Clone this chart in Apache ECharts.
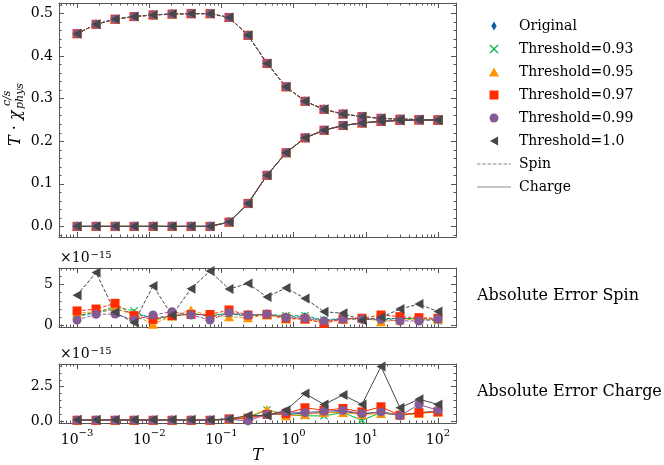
<!DOCTYPE html>
<html>
<head>
<meta charset="utf-8">
<title>Susceptibility and absolute error</title>
<script src="https://cdn.jsdelivr.net/npm/echarts@6/dist/echarts.min.js"></script>
<style>html,body{margin:0;padding:0;background:#fff}</style>
</head>
<body>
<div id="main" style="width:664px;height:465px"></div>
<script>
// temperatures (log spaced, 10^-3 .. 10^2)
var T = [0.001, 0.001833, 0.00336, 0.006158, 0.01129, 0.02069, 0.03793, 0.06952, 0.1274, 0.2336,
         0.4281, 0.7848, 1.438, 2.637, 4.833, 8.859, 16.24, 29.76, 54.56, 100];

// T * chi (same for every method, they overlap in the picture)
var spinChi   = [0.453, 0.475, 0.487, 0.493, 0.497, 0.499, 0.5, 0.5, 0.491, 0.449,
                 0.383, 0.328, 0.294, 0.275, 0.264, 0.258, 0.254, 0.252, 0.251, 0.25];
var chargeChi = [0, 0, 0, 0, 0, 0, 0, 0, 0.01, 0.054,
                 0.12, 0.173, 0.208, 0.226, 0.237, 0.243, 0.247, 0.249, 0.25, 0.25];

// absolute errors, in units of 1e-15
var spinErrOriginal = [1.2, 1.5, 2.0, 1.4, 0.9, 1.1, 1.4, 1.1, 1.4, 1.1, 1.3, 1.0, 1.0, 0.5, 0.8, 0.8, 0.8, 0.8, 0.8, 0.7];
var spinErr093 = [1.03, 1.57, 2.27, 1.74, 0.62, 1.03, 1.45, 1.2, 1.45, 1.2, 1.32, 1.16, 1.16, 0.62, 0.83, 0.74, 0.62, 0.83, 0.74, 0.5];
var spinErr095 = [1.45, 1.65, 2.07, 1.24, 0.1, 1.1, 1.86, 1.1, 1.03, 0.9, 1.24, 0.74, 0.74, 0.33, 0.74, 0.91, 0.41, 0.62, 0.74, 0.74];
var spinErr097 = [1.74, 1.98, 2.69, 1.16, 0.7, 1.16, 1.3, 1.3, 1.86, 1.24, 1.32, 0.83, 0.74, 0.2, 0.74, 0.83, 1.24, 1.03, 0.91, 0.83];
var spinErr099 = [0.62, 1.32, 1.36, 0.62, 1.24, 1.65, 1.24, 0.62, 1.53, 1.24, 1.36, 0.91, 0.83, 0.5, 0.74, 0.7, 0.7, 0.5, 0.5, 0.74];
var spinErr10  = [3.7, 6.5, 1.57, 0.3, 4.83, 1.2, 4.5, 6.7, 4.46, 5.15, 3.47, 4.6, 3.3, 1.65, 1.45, 0.6, 0.95, 1.98, 2.6, 1.67];

var chargeErrOriginal = [0.05, 0.05, 0.05, 0.05, 0.05, 0.05, 0.05, 0.05, 0.12, 0.2, 0.5, 0.5, 0.55, 0.6, 0.7, 0.5, 0.65, 0.45, 0.6, 0.7];
var chargeErr093 = [0.05, 0.05, 0.05, 0.05, 0.05, 0.05, 0.05, 0.05, 0.12, 0.25, 0.8, 0.47, 0.37, 0.37, 0.61, 0.05, 0.61, 0.42, 0.54, 0.71];
var chargeErr095 = [0.05, 0.05, 0.05, 0.05, 0.05, 0.05, 0.05, 0.05, 0.12, 0.3, 0.84, 0.37, 0.47, 0.61, 0.61, 0.47, 0.54, 0.47, 0.54, 0.66];
var chargeErr097 = [0.05, 0.05, 0.05, 0.05, 0.05, 0.05, 0.05, 0.05, 0.15, 0.2, 0.47, 0.54, 0.96, 0.78, 0.91, 0.66, 1.03, 0.42, 0.61, 0.66];
var chargeErr099 = [0.05, 0.05, 0.05, 0.05, 0.05, 0.05, 0.05, 0.05, 0.12, 0.0, 0.47, 0.66, 0.61, 0.71, 0.78, 0.54, 0.66, 0.37, 1.2, 0.78];
var chargeErr10  = [0.08, 0.08, 0.08, 0.08, 0.08, 0.08, 0.08, 0.08, 0.15, 0.4, 0.4, 0.78, 2.0, 1.2, 1.89, 1.2, 3.97, 0.96, 1.59, 1.2];

var methods = ['Original', 'Threshold=0.93', 'Threshold=0.95', 'Threshold=0.97', 'Threshold=0.99', 'Threshold=1.0'];
var spinErrs = [spinErrOriginal, spinErr093, spinErr095, spinErr097, spinErr099, spinErr10];
var chargeErrs = [chargeErrOriginal, chargeErr093, chargeErr095, chargeErr097, chargeErr099, chargeErr10];

var majorX = [0.001, 0.01, 0.1, 1, 10, 100];

var colors = ['#0C5DA5', '#00B945', '#FF9500', '#FF2C00', '#845B97', '#474747'];
var symbols = [
  'path://M3,0L6,5L3,10L0,5Z',
  'path://M0,1L1,0L5,4L9,0L10,1L6,5L10,9L9,10L5,6L1,10L0,9L4,5Z',
  'path://M5,0L10,9L0,9Z',
  'path://M0,0L10,0L10,10L0,10Z',
  'circle',
  'path://M0,5L9,0L9,10Z'
];
var symbolSizes = [[6, 10], 8, [10, 9], 9, 9, [9, 10]];

var FONT = 'DejaVu Serif';
var frame = '#555';
var dash = [3.5, 1.8];

var minorX = [];
for (var d = -4; d <= 2; d++) {
  for (var k = 2; k <= 9; k++) minorX.push(+(k * Math.pow(10, d)).toPrecision(3));
}
function range(a, b, step, skip) {
  var out = [];
  for (var v = a; v <= b + 1e-9; v += step) {
    var r = +v.toFixed(4);
    if (skip.indexOf(r) < 0) out.push(r);
  }
  return out;
}

// legend icons for the two line styles
var solidIcon = 'path://M0,0L34,0L34,1L0,1Z';
var dashedIcon = 'path://';
for (var p = 0; p < 34; p += dash[0] + dash[1]) {
  var q = Math.min(p + dash[0], 34);
  dashedIcon += 'M' + p + ',0L' + q + ',0L' + q + ',1L' + p + ',1Z';
}

var xMin = Math.pow(10, -3.25), xMax = Math.pow(10, 2.25);

function expLabel(v) {
  var e = Math.round(Math.log10(v));
  return '{b|10}{s|' + (e < 0 ? '\u2212' + (-e) : e) + '}';
}

function makeX(g, showLabels) {
  var base = {gridIndex: g, type: 'log', min: xMin, max: xMax, splitLine: {show: false}};
  var line = {show: true, onZero: false, lineStyle: {color: frame, width: 1}};
  var noLine = {show: false, onZero: false};
  var lbl = {
    show: showLabels, customValues: majorX, formatter: expLabel, margin: 5,
    rich: {
      b: {fontFamily: FONT, fontSize: 14, color: '#000', padding: [5, 0, 0, 0], verticalAlign: 'bottom'},
      s: {fontFamily: FONT, fontSize: 10, color: '#000', verticalAlign: 'top'}
    }
  };
  var out = [
    Object.assign({}, base, {position: 'bottom', axisLine: line,
      axisTick: {inside: true, length: 5, customValues: majorX, lineStyle: {color: frame}}, axisLabel: lbl}),
    Object.assign({}, base, {position: 'top', axisLine: line,
      axisTick: {inside: true, length: 5, customValues: majorX, lineStyle: {color: frame}}, axisLabel: {show: false}}),
    Object.assign({}, base, {position: 'bottom', axisLine: noLine,
      axisTick: {inside: true, length: 2.5, customValues: minorX, lineStyle: {color: frame}}, axisLabel: {show: false}}),
    Object.assign({}, base, {position: 'top', axisLine: noLine,
      axisTick: {inside: true, length: 2.5, customValues: minorX, lineStyle: {color: frame}}, axisLabel: {show: false}})
  ];
  if (showLabels) {
    out[0].name = 'T';
    out[0].nameLocation = 'middle';
    out[0].nameGap = 22;
    out[0].nameTextStyle = {fontFamily: FONT, fontStyle: 'italic', fontSize: 16, color: '#000'};
  }
  return out;
}

function makeY(g, min, max, major, minor, digits) {
  var base = {gridIndex: g, type: 'value', min: min, max: max, splitLine: {show: false}};
  var line = {show: true, onZero: false, lineStyle: {color: frame, width: 1}};
  var noLine = {show: false, onZero: false};
  return [
    Object.assign({}, base, {position: 'left', axisLine: line,
      axisTick: {inside: true, length: 5, customValues: major, lineStyle: {color: frame}},
      axisLabel: {customValues: major, margin: 6, fontFamily: FONT, fontSize: 14, color: '#000',
        formatter: function (v) { return v.toFixed(digits); }}}),
    Object.assign({}, base, {position: 'right', axisLine: line,
      axisTick: {inside: true, length: 5, customValues: major, lineStyle: {color: frame}}, axisLabel: {show: false}}),
    Object.assign({}, base, {position: 'left', axisLine: noLine,
      axisTick: {inside: true, length: 2.5, customValues: minor, lineStyle: {color: frame}}, axisLabel: {show: false}}),
    Object.assign({}, base, {position: 'right', axisLine: noLine,
      axisTick: {inside: true, length: 2.5, customValues: minor, lineStyle: {color: frame}}, axisLabel: {show: false}})
  ];
}

var xAxes = [].concat(makeX(0, false), makeX(1, false), makeX(2, true));
var yAxes = [].concat(
  makeY(0, -0.025, 0.525, [0, 0.1, 0.2, 0.3, 0.4, 0.5], range(-0.02, 0.52, 0.02, [0, 0.1, 0.2, 0.3, 0.4, 0.5]), 1),
  makeY(1, -0.25, 7.07, [0, 5], range(1, 7, 1, [5]), 0),
  makeY(2, -0.15, 4.15, [0, 2.5], range(0.5, 4, 0.5, [2.5]), 1)
);

function pairs(xs, ys) {
  return xs.map(function (x, i) { return [x, ys[i]]; });
}

var series = [];
methods.forEach(function (name, m) {
  var common = {
    name: name, type: 'line', symbol: symbols[m], symbolSize: symbolSizes[m],
    itemStyle: {color: colors[m], borderWidth: 0}
  };
  series.push(Object.assign({}, common, {xAxisIndex: 0, yAxisIndex: 0, data: pairs(T, spinChi),
    lineStyle: {color: colors[m], width: 1, type: dash}}));
  series.push(Object.assign({}, common, {xAxisIndex: 0, yAxisIndex: 0, data: pairs(T, chargeChi),
    lineStyle: {color: colors[m], width: 1}}));
  series.push(Object.assign({}, common, {xAxisIndex: 4, yAxisIndex: 4, data: pairs(T, spinErrs[m]),
    lineStyle: {color: colors[m], width: 1, type: dash}}));
  series.push(Object.assign({}, common, {xAxisIndex: 8, yAxisIndex: 8, data: pairs(T, chargeErrs[m]),
    lineStyle: {color: colors[m], width: 1}}));
});
// legend-only entries for the line styles
series.push({name: 'Spin', type: 'line', xAxisIndex: 0, yAxisIndex: 0, data: [], symbol: 'none',
  itemStyle: {color: '#8a8a8a'}, lineStyle: {color: '#8a8a8a', width: 1, type: dash}});
series.push({name: 'Charge', type: 'line', xAxisIndex: 0, yAxisIndex: 0, data: [], symbol: 'none',
  itemStyle: {color: '#8a8a8a'}, lineStyle: {color: '#8a8a8a', width: 1}});

var legendData = methods.map(function (n, m) { return {name: n, icon: symbols[m]}; });
legendData.push({name: 'Spin', icon: dashedIcon}, {name: 'Charge', icon: solidIcon});

var chart = echarts.init(document.getElementById('main'), null, {renderer: 'canvas'});
chart.setOption({
  animation: false,
  backgroundColor: '#fff',
  grid: [
    {left: 59, top: 3, width: 397, height: 234},
    {left: 59, top: 268, width: 397, height: 59},
    {left: 59, top: 364, width: 397, height: 59}
  ],
  xAxis: xAxes,
  yAxis: yAxes,
  legend: {
    orient: 'vertical', left: 472, top: 14, itemWidth: 34, itemHeight: 9, itemGap: 9,
    selectedMode: false,
    itemStyle: {borderWidth: 0},
    textStyle: {fontFamily: FONT, fontSize: 14, color: '#000', lineHeight: 14, padding: [0, 0, 0, 3]},
    data: legendData
  },
  graphic: [
    {
      type: 'group', x: 16, y: 146, rotation: Math.PI / 2,
      children: [
        {type: 'text', x: 0, y: 0, style: {text: '{i|T} \u00b7 {i|\u03c7}', rich: {i: {fontStyle: 'italic', fontFamily: FONT, fontSize: 16}},
          fontFamily: FONT, fontSize: 16, fill: '#000', verticalAlign: 'middle', align: 'left'}},
        {type: 'text', x: 40, y: -9, style: {text: 'c/s', fontFamily: FONT, fontStyle: 'italic', fontSize: 11, fill: '#000', verticalAlign: 'middle', align: 'left'}},
        {type: 'text', x: 37, y: 4, style: {text: 'phys', fontFamily: FONT, fontStyle: 'italic', fontSize: 11, fill: '#000', verticalAlign: 'middle', align: 'left'}}
      ]
    },
    {type: 'text', left: 60, top: 250, style: {text: '\u00d710{s|\u221215}', fontFamily: FONT, fontSize: 14, fill: '#000',
      rich: {s: {fontFamily: FONT, fontSize: 10, verticalAlign: 'top', padding: [0, 0, 6, 1]}}}},
    {type: 'text', left: 60, top: 346, style: {text: '\u00d710{s|\u221215}', fontFamily: FONT, fontSize: 14, fill: '#000',
      rich: {s: {fontFamily: FONT, fontSize: 10, verticalAlign: 'top', padding: [0, 0, 6, 1]}}}},
    {type: 'text', left: 477, top: 288, style: {text: 'Absolute Error Spin', fontFamily: FONT, fontSize: 16, fill: '#000'}},
    {type: 'text', left: 477, top: 384, style: {text: 'Absolute Error Charge', fontFamily: FONT, fontSize: 16, fill: '#000'}}
  ],
  series: series
});
</script>
</body>
</html>
